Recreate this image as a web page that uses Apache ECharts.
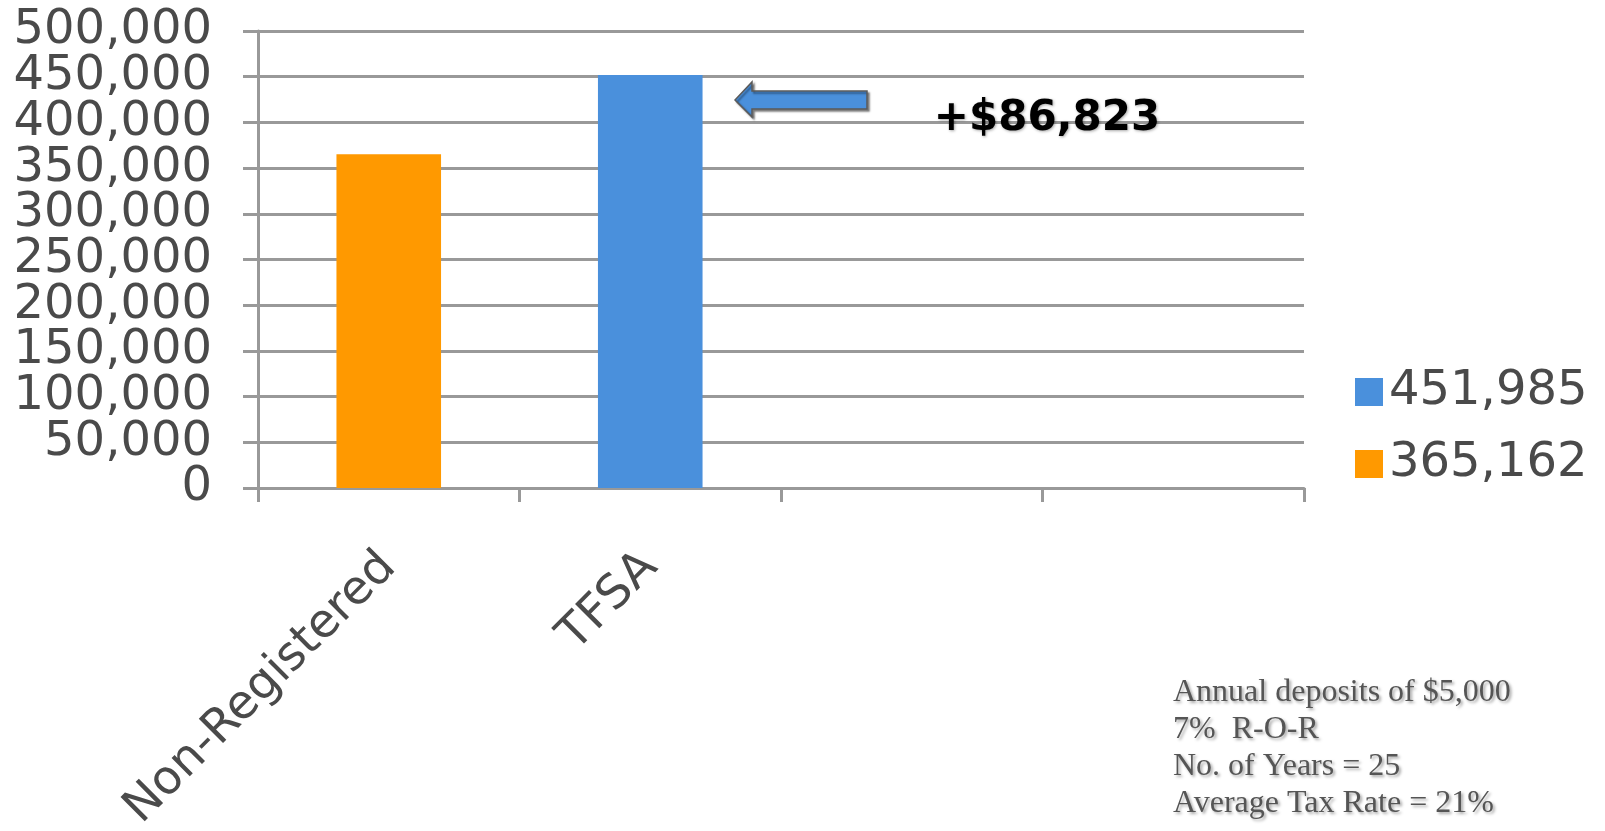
<!DOCTYPE html>
<html>
<head>
<meta charset="utf-8">
<script src="https://cdn.jsdelivr.net/npm/echarts@6/dist/echarts.min.js"></script>
<style>
html,body{margin:0;padding:0;background:#fff;}
#chart{width:1605px;height:831px;}
</style>
</head>
<body>
<div id="chart"></div>
<script>
const categories = ['Non-Registered', 'TFSA', '', ''];
const tfsaSeriesName = '451,985';
const tfsaValues = [null, 451985, null, null];
const nonRegSeriesName = '365,162';
const nonRegValues = [365162, null, null, null];
const yMin = 0, yMax = 500000, yInterval = 50000;
const yTicks = [0, 50000, 100000, 150000, 200000, 250000, 300000, 350000, 400000, 450000, 500000];
const differenceLabel = '+$86,823';
const noteLines = ['Annual deposits of $5,000', '7%  R-O-R', 'No. of Years = 25', 'Average Tax Rate = 21%'];

const chart = echarts.init(document.getElementById('chart'), null, {renderer: 'canvas'});
const gridColor = '#999999';
const labelColor = '#4a4a4a';
const sans = 'DejaVu Sans';
const gridLeft = 258;
const fmt = v => v.toLocaleString('en-US');

chart.setOption({
  animation: false,
  backgroundColor: '#ffffff',
  grid: {left: gridLeft, right: 301, top: 31, bottom: 343, containLabel: false, outerBoundsMode: 'none'},
  legend: {
    data: [tfsaSeriesName, nonRegSeriesName],
    orient: 'vertical',
    left: 1350,
    top: 363,
    itemWidth: 28,
    itemHeight: 28,
    itemGap: 24,
    icon: 'rect',
    textStyle: {fontSize: 48, color: labelColor, fontFamily: sans, lineHeight: 48, padding: [0, 0, 0, 1]}
  },
  xAxis: {
    type: 'category',
    data: categories,
    boundaryGap: true,
    axisLine: {lineStyle: {color: gridColor, width: 3}},
    axisTick: {show: true, length: 14, alignWithLabel: false, lineStyle: {color: gridColor, width: 3}},
    axisLabel: {rotate: 45, interval: 0, fontSize: 47, color: labelColor, fontFamily: sans, margin: 72},
    splitLine: {show: false}
  },
  yAxis: {
    type: 'value',
    min: yMin, max: yMax, interval: yInterval,
    axisLine: {show: true, lineStyle: {color: gridColor, width: 3}},
    axisTick: {show: true, length: 15, lineStyle: {color: gridColor, width: 3}},
    splitLine: {show: true, lineStyle: {color: gridColor, width: 3}},
    axisLabel: {show: false}
  },
  series: [
    {name: tfsaSeriesName, type: 'bar', stack: 'one', data: tfsaValues, barWidth: '40%',
     itemStyle: {color: '#4A90DC'}},
    {name: nonRegSeriesName, type: 'bar', stack: 'one', data: nonRegValues, barWidth: '40%',
     itemStyle: {color: '#FF9900'}}
  ]
});

// y-axis tick labels, positioned through the axis scale
const yLabelGraphics = yTicks.map(v => ({
  type: 'text',
  x: gridLeft - 46,
  y: chart.convertToPixel({yAxisIndex: 0}, v),
  style: {text: fmt(v), font: '48px "DejaVu Sans"', fill: labelColor,
          textAlign: 'right', textVerticalAlign: 'middle'}
}));

chart.setOption({
  graphic: yLabelGraphics.concat([
    {
      type: 'polygon',
      shape: {points: [[735, 100], [752, 82], [752, 91], [867, 91], [867, 109], [752, 109], [752, 117]]},
      style: {fill: '#4A90DC', stroke: '#5a5a5a', lineWidth: 1.5,
              shadowColor: 'rgba(0,0,0,0.45)', shadowBlur: 2, shadowOffsetX: 2, shadowOffsetY: 2}
    },
    {
      type: 'text',
      x: 1047, y: 119,
      style: {text: differenceLabel, font: 'bold 42px "DejaVu Sans"', fill: '#000000',
              textAlign: 'center', textVerticalAlign: 'middle',
              textShadowColor: 'rgba(0,0,0,0.35)', textShadowBlur: 3, textShadowOffsetX: 1, textShadowOffsetY: 1}
    },
    {
      type: 'text',
      x: 1173, y: 674,
      style: {text: noteLines.join('\n'), font: '32px "Liberation Serif"', fill: '#555555',
              lineHeight: 37, textAlign: 'left', textVerticalAlign: 'top',
              textShadowColor: 'rgba(0,0,0,0.35)', textShadowBlur: 3, textShadowOffsetX: 2, textShadowOffsetY: 2}
    }
  ])
});
</script>
</body>
</html>
